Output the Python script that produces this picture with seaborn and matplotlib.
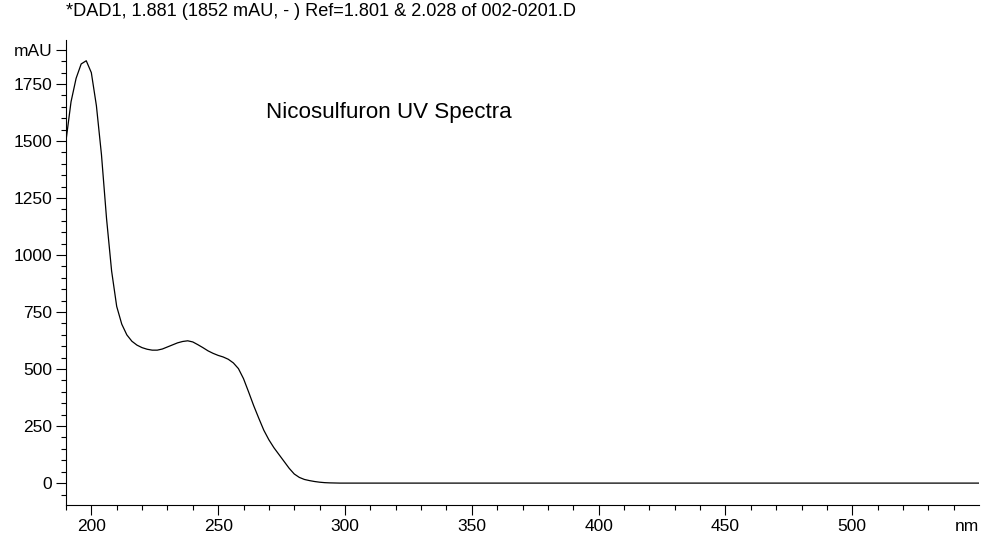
import matplotlib
matplotlib.use("Agg")
import matplotlib.pyplot as plt
import seaborn as sns
import pandas as pd
from matplotlib.ticker import MultipleLocator, FixedLocator

wavelength_nm = [190, 192, 194, 196, 198, 200, 202, 204, 206, 208, 210, 212, 214, 216,
                 218, 220, 222, 224, 226, 228, 230, 232, 234, 236, 238, 240, 242, 244,
                 246, 248, 250, 252, 254, 256, 258, 260, 262, 264, 266, 268, 270, 272,
                 274, 276, 278, 280, 282, 284, 286, 288, 290, 292, 294, 296, 298, 300,
                 320, 350, 400, 450, 500, 550]
absorbance_mau = [1500, 1672, 1775, 1838, 1852, 1800, 1655, 1440, 1160, 930, 775, 697, 650, 622,
                  605, 594, 587, 583, 583, 588, 597, 606, 615, 621, 624, 619, 607, 594,
                  580, 569, 560, 553, 543, 527, 502, 458, 400, 340, 285, 232, 190, 155,
                  125, 95, 65, 40, 25, 16, 11, 7, 4, 2, 1, 0.5, 0, 0,
                  0, 0, 0, 0, 0, 0]

y_major = [0, 250, 500, 750, 1000, 1250, 1500, 1750, 1900]
y_labels = ["0", "250", "500", "750", "1000", "1250", "1500", "1750", "mAU"]
x_major = [200, 250, 300, 350, 400, 450, 500]
x_labels = ["200", "250", "300", "350", "400", "450", "500"]
x_minor = list(range(190, 550, 10))

header = "*DAD1, 1.881 (1852 mAU, - ) Ref=1.801 & 2.028 of 002-0201.D"
inner_title = "Nicosulfuron UV Spectra"

sns.set_style("ticks")
plt.rcParams["font.family"] = ["Liberation Sans", "DejaVu Sans"]
plt.rcParams["text.color"] = "black"

df = pd.DataFrame({"nm": wavelength_nm, "mAU": absorbance_mau})

fig = plt.figure(figsize=(9.83, 5.37), dpi=100)
ax = fig.add_axes([0.0671, 0.0596, 0.996 - 0.0671, 0.9255 - 0.0596])
sns.lineplot(data=df, x="nm", y="mAU", ax=ax, color="black", linewidth=0.9)

ax.set_xlim(190, 550)
ax.set_ylim(-96, 1943)
ax.set_xticks(x_major)
ax.set_xticklabels(x_labels)
ax.set_yticks(y_major)
ax.set_yticklabels(y_labels)
ax.xaxis.set_minor_locator(FixedLocator(x_minor))
ax.yaxis.set_minor_locator(MultipleLocator(50))
ax.tick_params(axis="both", which="major", length=7.5, width=0.8, color="black",
               labelsize=12.5, pad=2.5, labelcolor="black")
ax.tick_params(axis="both", which="minor", length=3.8, width=0.8, color="black")
ax.set_xlabel("")
ax.set_ylabel("")
for s in ["top", "right"]:
    ax.spines[s].set_visible(False)
for s in ["left", "bottom"]:
    ax.spines[s].set_linewidth(0.8)
    ax.spines[s].set_color("black")

ax.text(1.0, -0.031, "nm", transform=ax.transAxes, ha="right", va="top",
        fontsize=12.5, color="black")
fig.text(66 / 983, 1 - 12 / 537, header, ha="left", va="center", fontsize=13.1, color="black")
ax.text(389 / 983, 1 - 113 / 537, inner_title, transform=fig.transFigure,
        ha="center", va="center", fontsize=16.1, color="black")

fig.savefig("out.png", dpi=100)
